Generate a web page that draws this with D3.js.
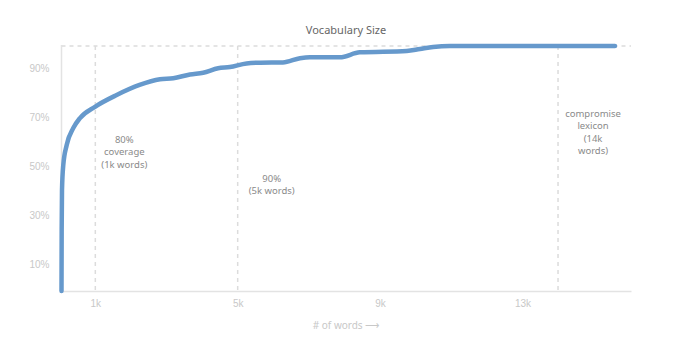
<html>
  <head>
    <title>Vocabulary Size</title>
    <meta charset="utf-8" />
    <script src="https://cdnjs.cloudflare.com/ajax/libs/d3/7.6.1/d3.min.js"></script>
    <style>
      body {
        margin: 0;
        background: #fff;
      }
      svg {
        width: 687px;
        height: 352px;
        font-family: "Noto Sans", sans-serif;
      }
      .axis path.domain {
        stroke: #e3e3e3;
        stroke-width: 1.5px;
      }
      .axis text {
        fill: #c8c8c8;
        font-size: 10px;
      }
      line.marker {
        stroke: #dcdcdc;
        stroke-dasharray: 4, 4;
        stroke-width: 1.5px;
      }
    </style>
  </head>
  <body>
    <svg></svg>
  </body>

  <script>
    // cumulative coverage: number of words vs % of text covered
    var words = [50, 55, 64, 100, 196, 381, 570, 991, 1600, 2243, 2817, 3190, 3660, 4030, 4450, 4780,
      5250, 5640, 6270, 6750, 7030, 7870, 8430, 9750, 10120, 10490, 10960, 15600];
    var coverage = [0, 25, 41.2, 51.4, 59.6, 66.5, 70.6, 75.2, 80.0, 84.1, 86.4, 86.8, 88.4, 89.1, 90.9, 91.4,
      92.9, 93.2, 93.3, 95.0, 95.4, 95.4, 97.4, 98.0, 98.8, 99.6, 100, 100];

    var xTicks = [1000, 5000, 9000, 13000];
    var xTickLabels = ["1k", "5k", "9k", "13k"];
    var yTicks = [10, 30, 50, 70, 90];

    var markers = [
      { at: 1000, lines: ["80%", "coverage", "(1k words)"] },
      { at: 5000, lines: ["90%", "(5k words)"] },
      { at: 14000, lines: ["compromise", "lexicon", "(14k", "words)"] },
    ];

    var data = words.map((w, i) => ({ words: w, pct: coverage[i] }));

    const svg = d3.select("svg");
    const xScale = d3.scaleLinear().domain([50, 16050]).range([61.5, 631]);
    const yScale = d3.scaleLinear().domain([0, 100]).range([291, 46]);

    // top dashed line
    svg.append("line")
      .attr("class", "marker")
      .attr("x1", xScale.range()[0])
      .attr("x2", xScale.range()[1])
      .attr("y1", yScale(100))
      .attr("y2", yScale(100));

    // annotation lines
    svg.selectAll("line.vmark")
      .data(markers)
      .enter()
      .append("line")
      .attr("class", "marker vmark")
      .attr("x1", (d) => xScale(d.at))
      .attr("x2", (d) => xScale(d.at))
      .attr("y1", yScale(100))
      .attr("y2", yScale(0));

    const xAxis = d3.axisBottom(xScale)
      .tickValues(xTicks)
      .tickFormat((d, i) => xTickLabels[i])
      .tickSize(0)
      .tickPadding(9)
      .tickSizeOuter(0);
    svg.append("g")
      .attr("class", "axis")
      .attr("transform", "translate(0," + yScale(0) + ")")
      .call(xAxis);

    const yAxis = d3.axisLeft(yScale)
      .tickValues(yTicks)
      .tickFormat((d) => d + "%")
      .tickSize(0)
      .tickPadding(12)
      .tickSizeOuter(0);
    const yG = svg.append("g")
      .attr("class", "axis")
      .attr("transform", "translate(" + xScale.range()[0] + ",0)")
      .call(yAxis);
    yG.selectAll("text").attr("dy", "0.08em");
    yG.select("path.domain").attr("d", "M0," + yScale(0) + "V" + (yScale(100) - 1));

    const line = d3.line()
      .x((d) => xScale(d.words))
      .y((d) => yScale(d.pct))
      .curve(d3.curveMonotoneX);

    svg.append("path")
      .datum(data)
      .attr("d", line)
      .attr("fill", "none")
      .attr("stroke", "#6699cc")
      .attr("stroke-width", 4.5)
      .attr("stroke-linecap", "round")
      .attr("stroke-linejoin", "round");

    // annotation labels
    const labelOffsets = { 1000: [29, 143], 5000: [34, 182], 14000: [35, 117] };
    markers.forEach((m) => {
      const t = svg.append("text")
        .attr("text-anchor", "middle")
        .attr("fill", "#8a8a8a")
        .attr("font-size", "9.5px");
      m.lines.forEach((l, i) => {
        t.append("tspan")
          .attr("x", xScale(m.at) + labelOffsets[m.at][0])
          .attr("y", labelOffsets[m.at][1] + i * 12.3)
          .text(l);
      });
    });

    svg.append("text")
      .attr("x", 346)
      .attr("y", 34)
      .attr("text-anchor", "middle")
      .attr("fill", "#666")
      .attr("font-size", "11px")
      .text("Vocabulary Size");

    svg.append("text")
      .attr("x", 346)
      .attr("y", 329)
      .attr("text-anchor", "middle")
      .attr("fill", "#c8c8c8")
      .attr("font-size", "10px")
      .text("# of words \u27F6");
  </script>
</html>
